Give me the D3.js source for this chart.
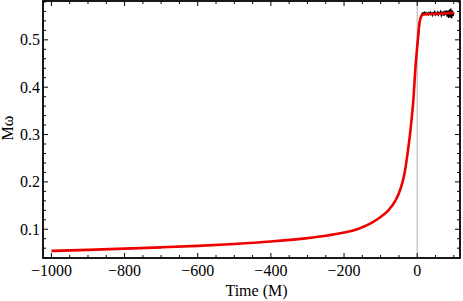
<!DOCTYPE html>
<html><head><meta charset="utf-8">
<script src="https://cdn.jsdelivr.net/npm/d3@7"></script>
<style>html,body{margin:0;padding:0;background:#fff;}svg{display:block;}</style>
</head><body>
<script>
// Fit (red) curve
const fitTime = [-1000,-900,-800,-700,-600,-500,-400,-300,-250,-200,-175,-150,-125,-100,-80,-60,-50,-40,-33,-25,-20,-15,-10,-5,0,3,6,9,12,17,25,40,60,80,100];
const fitOmega = [0.0543,0.0565,0.0590,0.0618,0.0650,0.0690,0.0742,0.0812,0.0862,0.0930,0.0975,0.1042,0.1135,0.1260,0.1390,0.1600,0.1760,0.2000,0.2250,0.2680,0.2980,0.3350,0.3780,0.4400,0.4850,0.5120,0.5340,0.5460,0.5510,0.5535,0.5540,0.5545,0.5550,0.5560,0.5570];
// Numerical (black, noisy) curve
const numTime = [0,2,4,6,8,10,12,14,16,18,20,22,24,26,28,30,32,34,36,38,40,42,44,46,48,50,52,54,56,58,60,62,64,66,68,70,72,74,76,78,80,82,84,86,88,90,92,94,96,98,100];
const numOmega = [0.485,0.500,0.515,0.532,0.543,0.549,0.553,0.556,0.557,0.556,0.558,0.555,0.557,0.554,0.556,0.553,0.557,0.555,0.558,0.554,0.556,0.552,0.557,0.555,0.559,0.553,0.556,0.554,0.558,0.553,0.557,0.555,0.559,0.552,0.557,0.554,0.560,0.551,0.558,0.553,0.562,0.549,0.561,0.546,0.564,0.548,0.566,0.545,0.562,0.550,0.558];
const xMajor = [-1000,-800,-600,-400,-200,0];
const yMajor = [0.1,0.2,0.3,0.4,0.5];
const xLabel = "Time (M)";
const yLabel = "Mω";

const W = 463, H = 301;
const L = 43, R = 460, T = 1, B = 258;
const svg = d3.select("body").append("svg").attr("width", W).attr("height", H);
const x = d3.scaleLinear().domain([-1023, 117]).range([L, R]);
const y = d3.scaleLinear().domain([0.0393, 0.582]).range([B, T]);

const font = "'Liberation Serif','Times New Roman',serif";

svg.append("clipPath").attr("id","clip").append("rect").attr("x",L).attr("y",T).attr("width",R-L).attr("height",B-T);
const g = svg.append("g").attr("clip-path","url(#clip)");

g.append("line").attr("x1",x(0)).attr("x2",x(0)).attr("y1",T).attr("y2",B).attr("stroke","#b0b0b0").attr("stroke-width",1);

const line = d3.line().x(d=>x(d[0])).y(d=>y(d[1])).curve(d3.curveMonotoneX);
g.append("path").datum(numTime.map((t,i)=>[t,numOmega[i]])).attr("d",d3.line().x(d=>x(d[0])).y(d=>y(d[1])))
  .attr("fill","none").attr("stroke","#000").attr("stroke-width",1.5);
g.append("path").datum(fitTime.map((t,i)=>[t,fitOmega[i]])).attr("d",line)
  .attr("fill","none").attr("stroke","#ee0000").attr("stroke-width",2.6);

const xMinor = d3.range(-1000, 117, 50);
const yMinor = d3.range(0.04, 0.582, 0.02).map(v=>+v.toFixed(3));
const tk = svg.append("g").attr("stroke","#000");
function xt(v, len){
  tk.append("line").attr("x1",x(v)).attr("x2",x(v)).attr("y1",B).attr("y2",B-len).attr("stroke-width",1);
  tk.append("line").attr("x1",x(v)).attr("x2",x(v)).attr("y1",T).attr("y2",T+len).attr("stroke-width",1);
}
function yt(v, len){
  tk.append("line").attr("y1",y(v)).attr("y2",y(v)).attr("x1",L).attr("x2",L+len).attr("stroke-width",1);
  tk.append("line").attr("y1",y(v)).attr("y2",y(v)).attr("x1",R).attr("x2",R-len).attr("stroke-width",1);
}
xMinor.forEach(v=>xt(v, xMajor.includes(v)?5:3));
yMinor.forEach(v=>yt(v, yMajor.some(m=>Math.abs(m-v)<1e-6)?5:3));

svg.append("rect").attr("x",L).attr("y",T).attr("width",R-L).attr("height",B-T)
  .attr("fill","none").attr("stroke","#000").attr("stroke-width",1.8);

const fmtX = v => v<0 ? "\u2212"+Math.abs(v) : ""+v;
svg.append("g").selectAll("text").data(xMajor).join("text")
  .attr("x",d=>x(d)).attr("y",276).attr("text-anchor","middle")
  .attr("font-family",font).attr("font-size",16).text(fmtX);
svg.append("g").selectAll("text").data(yMajor).join("text")
  .attr("x",40).attr("y",d=>y(d)+5.5).attr("text-anchor","end")
  .attr("font-family",font).attr("font-size",16).text(d=>d.toFixed(1));
svg.append("text").attr("x",(L+R)/2+5).attr("y",296).attr("text-anchor","middle")
  .attr("font-family",font).attr("font-size",16).text(xLabel);
svg.append("text").attr("transform","translate(13,128) rotate(-90)").attr("text-anchor","middle")
  .attr("font-family",font).attr("font-size",16).text(yLabel);
</script>
</body></html>
